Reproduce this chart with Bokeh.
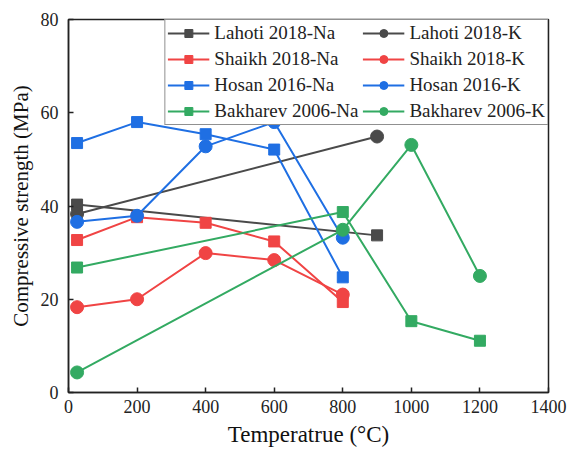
from bokeh.plotting import figure
from bokeh.models import Legend, LegendItem, FixedTicker
from bokeh.embed import file_html
from bokeh.resources import INLINE

# Compressive strength of geopolymers after exposure to elevated temperature
lahoti_na_t = [25, 900]
lahoti_na_s = [40.3, 33.7]
lahoti_k_t = [25, 900]
lahoti_k_s = [38.3, 54.9]
shaikh_na_t = [25, 200, 400, 600, 800]
shaikh_na_s = [32.7, 37.6, 36.4, 32.4, 19.4]
shaikh_k_t = [25, 200, 400, 600, 800]
shaikh_k_s = [18.3, 20.0, 29.9, 28.4, 21.0]
hosan_na_t = [25, 200, 400, 600, 800]
hosan_na_s = [53.5, 58.0, 55.4, 52.1, 24.7]
hosan_k_t = [25, 200, 400, 600, 800]
hosan_k_s = [36.6, 37.9, 52.8, 58.0, 33.2]
bakharev_na_t = [25, 800, 1000, 1200]
bakharev_na_s = [26.8, 38.7, 15.3, 11.1]
bakharev_k_t = [25, 800, 1000, 1200]
bakharev_k_s = [4.3, 34.9, 53.1, 25.0]

x_ticks = [0, 200, 400, 600, 800, 1000, 1200, 1400]
y_ticks = [0, 20, 40, 60, 80]

GRAY = "#4a4a4a"
RED = "#f04444"
BLUE = "#1f6fe3"
GREEN = "#33aa62"
FONT = "Liberation Serif"

series = [
    ("Lahoti 2018-Na", lahoti_na_t, lahoti_na_s, GRAY, "square"),
    ("Lahoti 2018-K", lahoti_k_t, lahoti_k_s, GRAY, "circle"),
    ("Shaikh 2018-Na", shaikh_na_t, shaikh_na_s, RED, "square"),
    ("Shaikh 2018-K", shaikh_k_t, shaikh_k_s, RED, "circle"),
    ("Hosan 2016-Na", hosan_na_t, hosan_na_s, BLUE, "square"),
    ("Hosan 2016-K", hosan_k_t, hosan_k_s, BLUE, "circle"),
    ("Bakharev 2006-Na", bakharev_na_t, bakharev_na_s, GREEN, "square"),
    ("Bakharev 2006-K", bakharev_k_t, bakharev_k_s, GREEN, "circle"),
]

p = figure(width=569, height=450, x_range=(0, 1400), y_range=(0, 80),
           output_backend="svg", toolbar_location=None,
           min_border_left=68, min_border_right=21, min_border_top=19,
           min_border_bottom=58)

p.background_fill_color = "white"
p.border_fill_color = "white"
p.outline_line_color = "#222222"
p.outline_line_width = 1.5
p.grid.visible = False

items = {}
for label, t, s, color, marker in series:
    ln = p.line(t, s, line_color=color, line_width=2)
    if marker == "square":
        sc = p.scatter(t, s, marker="square", size=11, fill_color=color, line_color=color)
    else:
        sc = p.scatter(t, s, marker="circle", size=13, fill_color=color, line_color=color)
    items[label] = LegendItem(label=label, renderers=[ln, sc])

order = ["Lahoti 2018-Na", "Shaikh 2018-Na", "Hosan 2016-Na", "Bakharev 2006-Na",
         "Lahoti 2018-K", "Shaikh 2018-K", "Hosan 2016-K", "Bakharev 2006-K"]
legend = Legend(items=[items[k] for k in order], location="top_right", ncols=2,
                orientation="vertical")
legend.label_text_font = FONT
legend.label_text_font_size = "19px"
legend.label_text_color = "#222222"
legend.glyph_width = 42
legend.glyph_height = 20
legend.label_height = 20
legend.label_standoff = 5
legend.spacing = 4
legend.padding = 2
legend.margin = 0
legend.border_line_color = "#222222"
legend.border_line_width = 1.5
legend.background_fill_alpha = 1.0
p.add_layout(legend)

for ax in (p.xaxis[0], p.yaxis[0]):
    ax.axis_line_color = "#222222"
    ax.axis_line_width = 1.5
    ax.major_tick_line_color = "#222222"
    ax.major_tick_line_width = 1.5
    ax.major_tick_in = 5
    ax.major_tick_out = 0
    ax.minor_tick_line_color = None
    ax.major_label_text_font = FONT
    ax.major_label_text_font_size = "18px"
    ax.major_label_text_color = "#222222"
    ax.axis_label_text_font = FONT
    ax.axis_label_text_font_style = "normal"
    ax.axis_label_text_color = "#111111"

p.xaxis.axis_label_text_font_size = "23px"
p.yaxis.axis_label_text_font_size = "21px"
p.xaxis.ticker = FixedTicker(ticks=x_ticks)
p.yaxis.ticker = FixedTicker(ticks=y_ticks)
p.xaxis.axis_label = "Temperatrue (°C)"
p.yaxis.axis_label = "Compressive strength (MPa)"
p.xaxis.major_label_standoff = 7
p.xaxis.axis_label_standoff = 6
p.yaxis.major_label_standoff = 10
p.yaxis.axis_label_standoff = 5

open("out.html", "w").write(file_html(p, INLINE))
